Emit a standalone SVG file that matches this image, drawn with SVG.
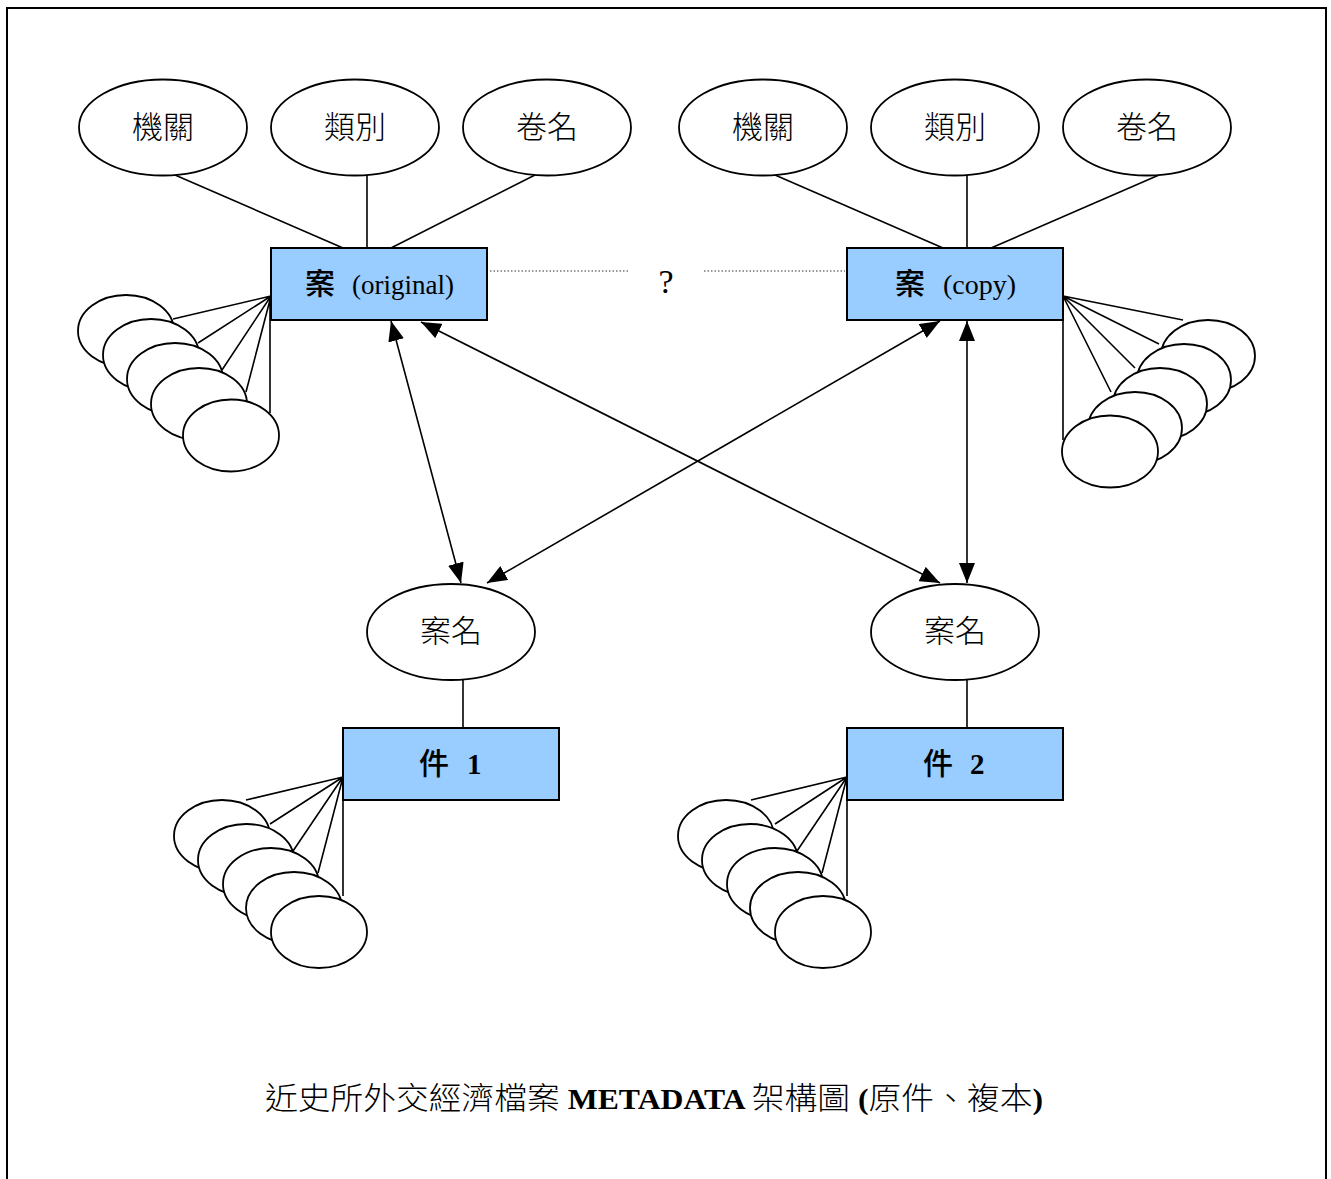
<svg xmlns="http://www.w3.org/2000/svg" width="1331" height="1179" viewBox="0 0 1331 1179">
<style>
.el{fill:#fff;stroke:#000;stroke-width:1.8}
.box{fill:#99ccff;stroke:#000;stroke-width:2}
.ln{stroke:#000;stroke-width:1.6;fill:none}
.cj{font-family:"Noto Sans CJK TC","Noto Sans CJK SC",sans-serif;font-size:31px;font-weight:300;fill:#000}
.bx{font-family:"Noto Sans CJK TC","Noto Sans CJK SC",sans-serif;font-size:30px;font-weight:500;fill:#000}
.tm{font-family:"Liberation Serif","Times New Roman",serif;fill:#000}
.dot{stroke:#333;stroke-width:1.2;stroke-dasharray:1.5 2;fill:none}
</style>
<defs>
<marker id="arr" viewBox="0 0 20 16" refX="20" refY="8" markerWidth="20" markerHeight="16" markerUnits="userSpaceOnUse" orient="auto-start-reverse"><path d="M0,0 L20,8 L0,16 z" fill="#000"/></marker>
</defs>
<rect x="7" y="8" width="1319" height="1190" fill="none" stroke="#000" stroke-width="2"/>

<g id="connectors">
<line class="ln" x1="175" y1="175" x2="343" y2="248"/>
<line class="ln" x1="367" y1="175" x2="367" y2="248"/>
<line class="ln" x1="535" y1="175" x2="391" y2="248"/>
<line class="ln" x1="775" y1="175" x2="943" y2="248"/>
<line class="ln" x1="967" y1="175" x2="967" y2="248"/>
<line class="ln" x1="1159" y1="175" x2="991" y2="248"/>
<line class="dot" x1="490" y1="271" x2="628" y2="271"/>
<line class="dot" x1="704" y1="271" x2="845" y2="271"/>
<line class="ln" x1="391" y1="321" x2="461" y2="583" marker-start="url(#arr)" marker-end="url(#arr)"/>
<line class="ln" x1="421" y1="322" x2="940" y2="583" marker-start="url(#arr)" marker-end="url(#arr)"/>
<line class="ln" x1="940" y1="321" x2="487" y2="583" marker-start="url(#arr)" marker-end="url(#arr)"/>
<line class="ln" x1="967" y1="321" x2="967" y2="583" marker-start="url(#arr)" marker-end="url(#arr)"/>
<line class="ln" x1="463" y1="680" x2="463" y2="728"/>
<line class="ln" x1="967" y1="680" x2="967" y2="728"/>
<path class="ln" d="M271,296 L173,319 M271,296 L198,343 M271,296 L222,370 M271,296 L246,392 M270,296 L270,413"/>
<path class="ln" d="M1063,296 L1183,320 M1063,296 L1159,344 M1063,296 L1135,368 M1063,296 L1111,392 M1063,296 L1063,440"/>
<path class="ln" d="M343,777 L246,800 M343,777 L270,824 M343,777 L293,851 M343,777 L318,873 M343,777 L343,896"/>
<path class="ln" d="M847,777 L751,800 M847,777 L775,824 M847,777 L797,851 M847,777 L822,873 M847,777 L847,896"/>
</g>

<g id="attr-orig-jiguan"><ellipse class="el" cx="163" cy="127.5" rx="84" ry="48"/><text class="cj" x="163" y="138" text-anchor="middle">機關</text></g>
<g id="attr-orig-leibie"><ellipse class="el" cx="355" cy="127.5" rx="84" ry="48"/><text class="cj" x="355" y="138" text-anchor="middle">類別</text></g>
<g id="attr-orig-juanming"><ellipse class="el" cx="547" cy="127.5" rx="84" ry="48"/><text class="cj" x="547" y="138" text-anchor="middle">卷名</text></g>
<g id="attr-copy-jiguan"><ellipse class="el" cx="763" cy="127.5" rx="84" ry="48"/><text class="cj" x="763" y="138" text-anchor="middle">機關</text></g>
<g id="attr-copy-leibie"><ellipse class="el" cx="955" cy="127.5" rx="84" ry="48"/><text class="cj" x="955" y="138" text-anchor="middle">類別</text></g>
<g id="attr-copy-juanming"><ellipse class="el" cx="1147" cy="127.5" rx="84" ry="48"/><text class="cj" x="1147" y="138" text-anchor="middle">卷名</text></g>

<g id="case-original"><rect class="box" x="271" y="248" width="216" height="72"/>
<text x="305" y="294"><tspan class="bx">案</tspan><tspan class="tm" font-size="27" x="352">(original)</tspan></text></g>
<g id="case-copy"><rect class="box" x="847" y="248" width="216" height="72"/>
<text x="895" y="294"><tspan class="bx">案</tspan><tspan class="tm" font-size="28" x="943">(copy)</tspan></text></g>

<g id="question"><text class="tm" font-size="34" x="666" y="293" text-anchor="middle">?</text></g>

<g id="fan-orig">
<ellipse class="el" cx="126" cy="331" rx="48" ry="36"/>
<ellipse class="el" cx="151" cy="355" rx="48" ry="36"/>
<ellipse class="el" cx="175" cy="379" rx="48" ry="36"/>
<ellipse class="el" cx="199" cy="404" rx="48" ry="36"/>
<ellipse class="el" cx="231" cy="435.5" rx="48" ry="36"/>
</g>
<g id="fan-copy">
<ellipse class="el" cx="1208" cy="356" rx="47" ry="36"/>
<ellipse class="el" cx="1184" cy="380" rx="47" ry="36"/>
<ellipse class="el" cx="1160" cy="404" rx="47" ry="36"/>
<ellipse class="el" cx="1135" cy="428" rx="47" ry="36"/>
<ellipse class="el" cx="1110" cy="451.5" rx="48" ry="36"/>
</g>

<g id="casename-1"><ellipse class="el" cx="451" cy="632" rx="84" ry="48"/><text class="cj" x="451" y="642" text-anchor="middle">案名</text></g>
<g id="casename-2"><ellipse class="el" cx="955" cy="632" rx="84" ry="48"/><text class="cj" x="955" y="642" text-anchor="middle">案名</text></g>

<g id="item-1"><rect class="box" x="343" y="728" width="216" height="72"/>
<text x="419" y="774"><tspan class="bx">件</tspan><tspan class="tm" font-size="29" font-weight="bold" x="467">1</tspan></text></g>
<g id="item-2"><rect class="box" x="847" y="728" width="216" height="72"/>
<text x="923" y="774"><tspan class="bx">件</tspan><tspan class="tm" font-size="29" font-weight="bold" x="970">2</tspan></text></g>

<g id="fan-item1">
<ellipse class="el" cx="222" cy="836" rx="48" ry="36"/>
<ellipse class="el" cx="246" cy="860" rx="48" ry="36"/>
<ellipse class="el" cx="271" cy="884" rx="48" ry="36"/>
<ellipse class="el" cx="294" cy="908" rx="48" ry="36"/>
<ellipse class="el" cx="319" cy="932" rx="48" ry="36"/>
</g>
<g id="fan-item2">
<ellipse class="el" cx="726" cy="836" rx="48" ry="36"/>
<ellipse class="el" cx="750" cy="860" rx="48" ry="36"/>
<ellipse class="el" cx="775" cy="884" rx="48" ry="36"/>
<ellipse class="el" cx="798" cy="908" rx="48" ry="36"/>
<ellipse class="el" cx="823" cy="932" rx="48" ry="36"/>
</g>

<g id="title">
<text x="265" y="1109" textLength="778" lengthAdjust="spacingAndGlyphs"><tspan class="cj" font-size="32" font-weight="500">近史所外交經濟檔案</tspan><tspan class="tm" font-size="30" font-weight="bold"> METADATA </tspan><tspan class="cj" font-size="32" font-weight="500">架構圖</tspan><tspan class="tm" font-size="30" font-weight="bold">  (</tspan><tspan class="cj" font-size="32" font-weight="500">原件、複本</tspan><tspan class="tm" font-size="30" font-weight="bold">)</tspan></text>
</g>
</svg>
